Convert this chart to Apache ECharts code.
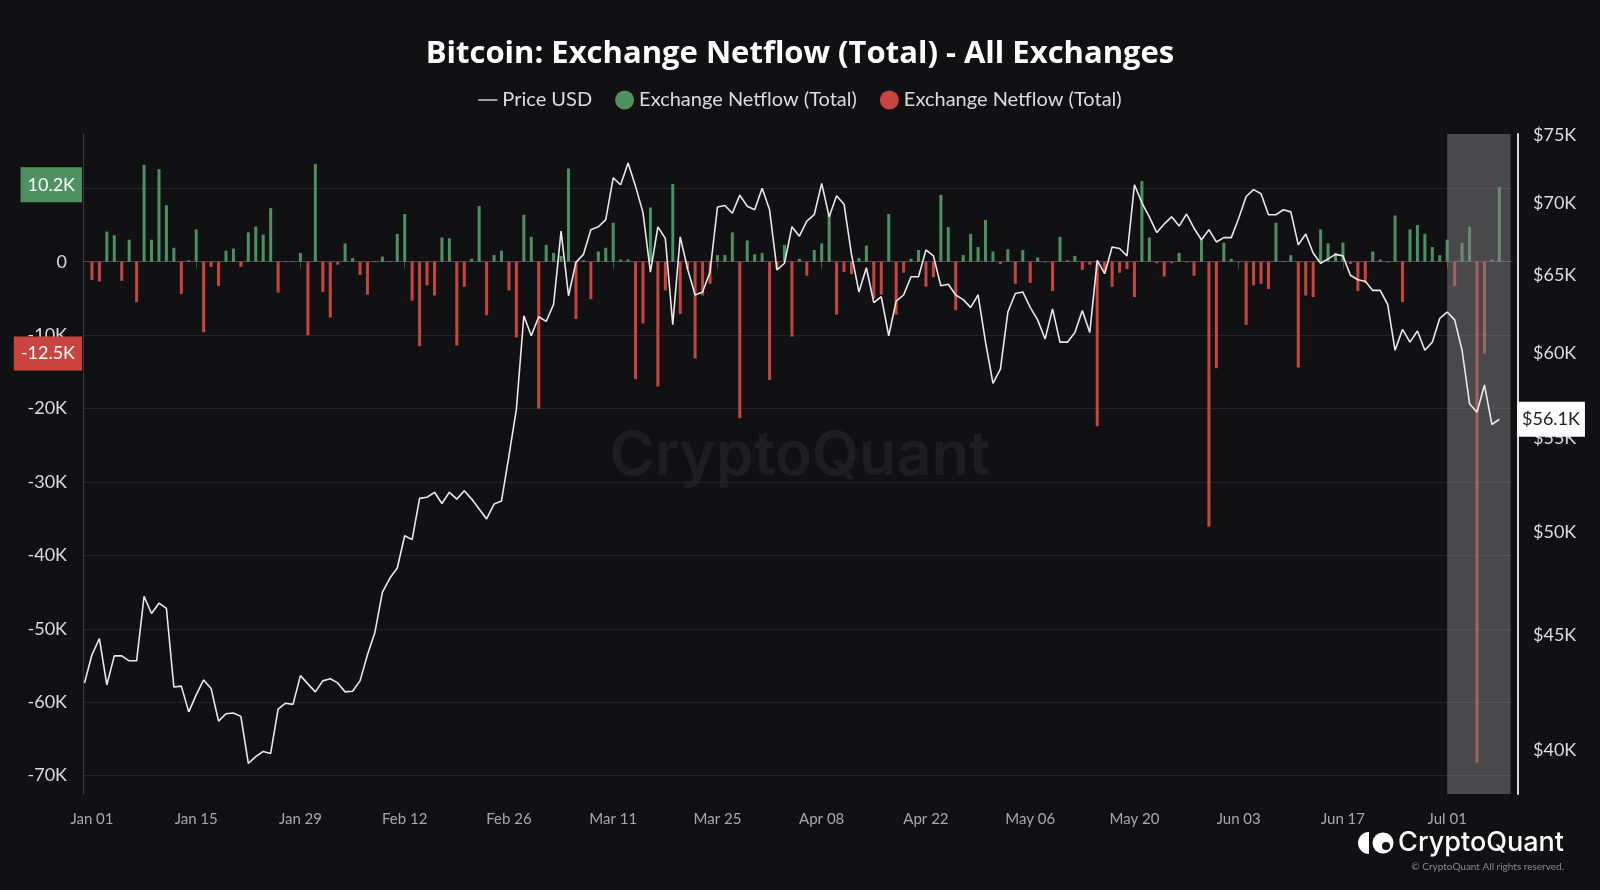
<!DOCTYPE html>
<html><head><meta charset="utf-8">
<script src="https://cdn.jsdelivr.net/npm/echarts@6/dist/echarts.min.js"></script>
<style>html,body{margin:0;padding:0;background:#111114;}#c{width:1600px;height:890px;}</style>
</head><body><div id="c"></div>
<script>
// Exchange netflow, thousands of BTC, daily from 2024-01-01 to 2024-07-08
const netflowK = [
 -2.5,-2.7,4.1,3.6,-2.6,3.0,-5.5,13.2,3.0,12.6, 7.7,1.9,-4.4,0.2,4.4,-9.6,-0.7,-3.3,1.5,1.8,
 -0.7,4.0,4.8,3.7,7.3,-4.2,0.1,0.1,1.2,-10.0, 13.3,-4.1,-7.6,-0.4,2.5,0.5,-1.8,-4.5,0.1,0.7,
 0.1,3.8,6.5,-5.3,-11.5,-3.2,-4.6,3.3,3.2,-11.4, -3.4,0.4,7.6,-7.3,0.9,1.5,-3.9,-10.3,6.4,3.4,
 -20.0,2.3,1.2,0.8,12.7,-7.8,0.2,-5.1,1.4,1.9, 5.3,0.3,0.3,-16.0,-8.4,7.4,-17.0,-3.9,10.6,-7.1,
 -1.0,-13.2,-4.6,-3.0,0.9,0.9,4.0,-21.3,2.9,1.0, 1.2,-16.1,-1.0,2.3,-10.2,0.4,-1.9,1.6,2.5,6.5,
 -7.2,-1.4,-1.7,0.5,2.2,-5.0,-4.5,6.5,-7.2,-1.5, 0.4,1.6,-3.4,-2.1,9.1,4.7,-6.6,0.9,3.8,2.0,
 5.7,1.4,-0.3,1.7,-3.0,1.6,-2.9,0.6,-0.1,-4.0, 3.4,0.2,0.8,-1.1,-0.4,-22.4,-1.4,-3.4,-1.5,-1.0,
 -4.8,11.0,3.3,-0.2,-2.0,-0.2,1.2,-0.1,-1.9,3.1, -36.1,-14.5,2.6,0.4,-0.1,-8.6,-3.2,-3.0,-3.7,5.3,
 0.1,0.9,-14.4,-4.6,-4.8,4.4,2.5,1.2,2.6,-0.3, -4.0,-2.9,1.4,0.3,-0.1,6.3,-5.5,4.4,5.0,3.8,
 2.0,0.9,3.0,-3.3,2.6,4.8,-68.2,-12.5,0.3,10.2
];
// BTC price, thousands of USD, daily from 2023-12-31 to 2024-07-08
const priceK = [
 42.84,
 44.09,44.83,42.75,44.04,44.04,43.82,43.82,46.81,45.99,46.48, 46.23,42.66,42.70,41.59,42.32,42.97,42.60,41.20,41.51,41.54,
 41.40,39.46,39.73,39.94,39.86,41.71,41.96,41.91,43.16,42.80, 42.45,42.93,43.02,42.84,42.45,42.48,42.93,44.09,45.11,47.00,
 47.68,48.18,49.80,49.60,51.74,51.80,52.06,51.47,52.06,51.70, 52.14,51.70,51.18,50.66,51.44,51.60,54.04,56.68,62.36,61.10,
 62.30,62.00,63.10,68.00,63.65,65.86,66.40,68.10,68.30,68.80, 71.80,71.30,72.90,71.20,69.30,65.20,68.30,67.50,61.80,67.60,
 65.40,63.70,63.90,65.20,69.70,69.80,69.25,70.55,69.75,69.50, 71.05,69.50,65.35,65.80,68.30,67.65,68.70,69.15,71.40,69.00,
 70.50,69.90,66.40,63.90,65.50,63.20,63.60,61.10,63.30,63.70, 64.90,64.90,66.70,66.30,64.30,64.40,63.70,63.40,62.90,63.70,
 60.70,58.20,59.05,62.60,63.80,63.90,62.90,62.10,60.90,62.80, 60.70,60.70,61.30,62.70,61.30,66.00,65.10,66.90,66.80,66.30,
 71.30,70.00,69.00,67.90,68.50,69.00,68.35,69.20,68.20,67.40, 68.10,67.25,67.55,67.55,68.90,70.45,70.95,70.65,69.15,69.15,
 69.50,69.35,67.05,67.80,66.50,65.80,66.10,66.40,66.30,65.00, 64.70,64.60,64.00,64.00,63.10,60.20,61.50,60.70,61.40,60.20,
 60.70,62.20,62.60,62.10,60.20,57.00,56.50,58.10,55.80,56.10
];
const xTickDates = ['2024-01-01','2024-01-15','2024-01-29','2024-02-12','2024-02-26','2024-03-11','2024-03-25',
  '2024-04-08','2024-04-22','2024-05-06','2024-05-20','2024-06-03','2024-06-17','2024-07-01'];
const leftTicks = [10000,0,-10000,-20000,-30000,-40000,-50000,-60000,-70000];
const rightTicks = [40000,45000,50000,55000,60000,65000,70000,75000];
const lastGreen = 10200, lastRed = -12500, lastPrice = 56100;
const highlightStart = '2024-07-01';

function d(s){const p=s.split('-').map(Number);return new Date(p[0],p[1]-1,p[2]).getTime();}
const xMin = new Date(2023,11,31).getTime();
const xMax = new Date(2024,6,9,12).getTime();
const greenData = netflowK.map((v,i)=>[new Date(2024,0,1+i).getTime(), v>=0? v*1000 : null]);
const redData = netflowK.map((v,i)=>[new Date(2024,0,1+i).getTime(), v<0? v*1000 : null]);
const priceData = priceK.map((v,i)=>[new Date(2023,11,31+i).getTime(), v*1000]);
const xTicks = xTickDates.map(d);

const FONT = 'Lato, "Open Sans", sans-serif';
const NF = 'Exchange Netflow (Total)';
const NF2 = 'Exchange Netflow (Total)\u200b';
const hidden = {color:'rgba(0,0,0,0)', width:0};
const chart = echarts.init(document.getElementById('c'), null, {renderer:'canvas'});
chart.setOption({
  backgroundColor:'#111114',
  animation:false,
  textStyle:{fontFamily:FONT},
  title:{text:'Bitcoin: Exchange Netflow (Total) - All Exchanges', left:'center', top:39, padding:0,
    textStyle:{color:'#ffffff', fontSize:31, fontWeight:'bold', fontFamily:'"Open Sans", Lato, sans-serif'}},
  legend:{top:90, left:'center', padding:0, itemWidth:19, itemHeight:19, itemGap:23,
    textStyle:{color:'#dcdcdc', fontSize:20, fontFamily:FONT},
    formatter:n=>n.replace('\u200b',''),
    data:[{name:'Price USD', icon:'path://M0,0H20V1.6H0Z', itemStyle:{color:'#cfcfcf'}},
          {name:NF, icon:'circle'},{name:NF2, icon:'circle'}]},
  grid:{left:83, right:88, top:134, bottom:96, outerBoundsMode:'none'},
  xAxis:{type:'time', min:xMin, max:xMax,
    axisLine:{show:true, lineStyle:{color:'#4a4a4e', width:1}},
    axisTick:{show:true, customValues:xTicks, length:7, lineStyle:{color:'#4a4a4e'}},
    axisLabel:{customValues:xTicks, formatter:'{MMM} {dd}', color:'#a8a8a8', fontSize:15, margin:18, fontFamily:FONT},
    splitLine:{show:false}},
  yAxis:[
    {type:'value', min:-72500, max:17400, position:'left',
     axisLine:{show:true, lineStyle:{color:'#3c3c40', width:1}},
     axisTick:{show:false, customValues:leftTicks},
     axisLabel:{customValues:leftTicks, color:'#dcdcdc', fontSize:18, margin:16, fontFamily:FONT,
       formatter:v=> v===0 ? '0' : (v/1000)+'K'},
     splitLine:{show:true, lineStyle:{color:'#242428', width:1}}},
    {type:'log', logBase:10, min:38240, max:75100, position:'right', offset:6,
     axisLine:{show:true, lineStyle:{color:'#d8d8d8', width:2}},
     axisTick:{show:false, customValues:rightTicks},
     axisLabel:{customValues:rightTicks, color:'#dcdcdc', fontSize:18, margin:15, fontFamily:FONT,
       formatter:v=>'$'+Math.round(v/1000)+'K'},
     splitLine:{show:false}}
  ],
  graphic:[
    {type:'text', left:'center', top:426, z:0, silent:true,
     style:{text:'CryptoQuant', fill:'rgba(255,255,255,0.055)', fontSize:61, fontWeight:600, fontFamily:'Inter, Lato, sans-serif'}},
    {type:'sector', z:10, shape:{cx:1369, cy:843, r:11, r0:0, startAngle:Math.PI/2, endAngle:Math.PI*3/2}, style:{fill:'#ffffff'}},
    {type:'circle', z:10, shape:{cx:1383, cy:843, r:10.5}, style:{fill:'#ffffff'}},
    {type:'circle', z:11, shape:{cx:1386, cy:846, r:4}, style:{fill:'#111114'}},
    {type:'text', z:10, right:36, top:829, style:{text:'CryptoQuant', fill:'#ffffff', fontSize:27, fontWeight:500, fontFamily:'Inter, Lato, sans-serif'}},
    {type:'text', z:10, right:36, top:862, style:{text:'\u00a9 CryptoQuant All rights reserved.', fill:'#8a8a8a', fontSize:10, fontFamily:FONT}}
  ],
  series:[
    {name:NF, type:'bar', yAxisIndex:0, data:greenData, barWidth:3, barGap:'-100%', z:2,
     itemStyle:{color:'#4e9160'},
     markLine:{silent:true, symbol:'none', lineStyle:hidden, animation:false, z:6,
       data:[{yAxis:lastGreen}],
       label:{show:true, position:'start', distance:1, offset:[0,-2], formatter:'10.2K', color:'#ffffff', fontSize:18,
         backgroundColor:'#4e9160', padding:[9,7,8,7], fontFamily:FONT}}},
    {name:NF2, type:'bar', yAxisIndex:0, data:redData, barWidth:3, barGap:'-100%', z:2,
     itemStyle:{color:'#c9443d'},
     markLine:{silent:true, symbol:'none', lineStyle:hidden, animation:false, z:6,
       data:[{yAxis:lastRed}],
       label:{show:true, position:'start', distance:1, formatter:'-12.5K', color:'#ffffff', fontSize:18,
         backgroundColor:'#c9443d', padding:[8,7,8,7], fontFamily:FONT}},
     markArea:{silent:true, z:3, itemStyle:{color:'rgba(130,130,132,0.5)'},
       data:[[{xAxis:d(highlightStart)},{xAxis:xMax}]]}},
    {name:'Price USD', type:'line', yAxisIndex:1, data:priceData, symbol:'none', z:5, clip:true,
     lineStyle:{color:'#e8e8e8', width:1.6}, itemStyle:{color:'#e8e8e8'},
     markLine:{silent:true, symbol:'none', lineStyle:hidden, animation:false, z:6,
       data:[{yAxis:lastPrice}],
       label:{show:true, position:'end', distance:5, formatter:'$56.1K', color:'#222', fontSize:18,
         backgroundColor:'#ffffff', padding:[9,5,8,5], fontFamily:FONT}}}
  ]
});
</script></body></html>
